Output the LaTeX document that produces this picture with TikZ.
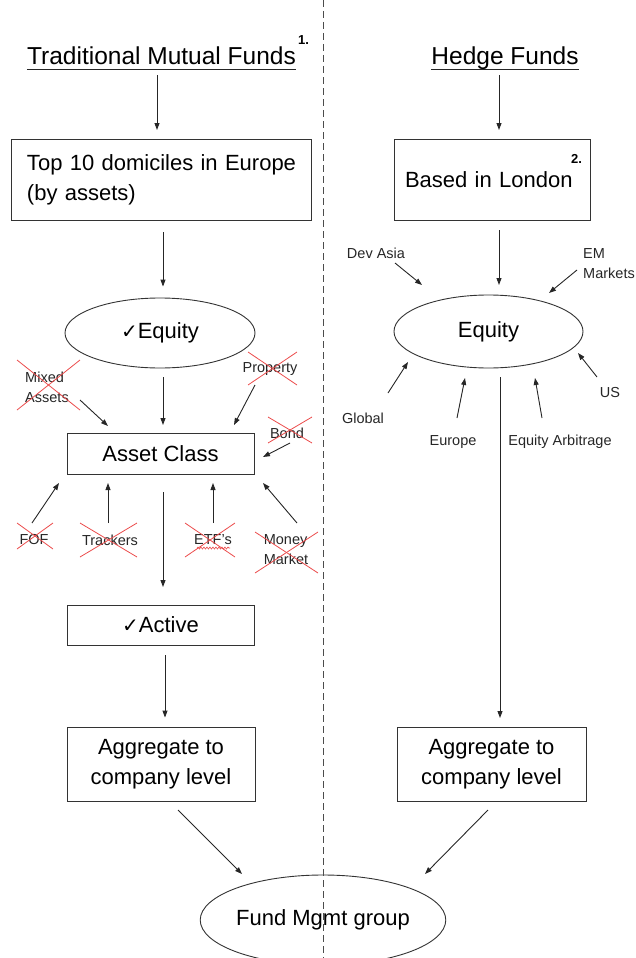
\documentclass[tikz,border=0pt]{standalone}
\usepackage{fontspec}
\setmainfont{Liberation Sans}
\newfontfamily\dvfont{DejaVu Sans}
\usetikzlibrary{shapes.geometric,arrows.meta,decorations.pathmorphing,calc}
\newcommand\redcross[5]{%
  \draw[xred] ($(#1)+(#2-#4,#3-#5)$) -- ($(#1)+(#2+#4,#3+#5)$);
  \draw[xred] ($(#1)+(#2+#4,#3-#5)$) -- ($(#1)+(#2-#4,#3+#5)$);}
\newcommand\chk{{\dvfont\fontsize{20}{20}\selectfont ✓}}
\begin{document}
\begin{tikzpicture}[x=1pt,y=-1pt,
  arr/.style={draw=black!85, line width=0.9pt, -{Triangle[length=7pt,width=5pt]}},
  boxn/.style={draw=black!80, line width=0.9pt, rectangle, inner sep=0pt, font=\fontsize{22}{30}\selectfont, align=center},
  elln/.style={draw=black!80, line width=0.9pt, ellipse, inner sep=0pt, font=\fontsize{22}{26}\selectfont},
  titlen/.style={font=\fontsize{24.5}{28}\selectfont, inner sep=0pt, anchor=base},
  supn/.style={font=\bfseries\fontsize{13}{15}\selectfont, inner sep=0pt, anchor=base west},
  lbl/.style={font=\fontsize{14.5}{20}\selectfont, inner sep=0pt, align=left, text=black!85},
  xred/.style={draw={rgb,255:red,235;green,75;blue,75}, line width=0.8pt},
  uline/.style={draw=black!85, line width=0.9pt},
  divider/.style={draw=black!70, line width=0.8pt, dash pattern=on 7pt off 4pt},
]
\useasboundingbox (0,0) rectangle (635,958);

% ---------- left column ----------
\node[titlen] (t1) at (161.5,65) {Traditional Mutual Funds};
\draw[uline] ([yshift=-4pt]t1.base west) -- ([yshift=-4pt]t1.base east);
\node[supn] (s1) at (298,45) {1.};
\node[boxn, minimum width=300pt, minimum height=81pt, align=left, text width=268pt] (b1) at (161,179.5) {\mbox{Top 10 domiciles in Europe}\\(by assets)};
\node[elln, minimum width=190pt, minimum height=70pt] (e1) at (160,333) {\chk Equity};
\node[boxn, minimum width=187pt, minimum height=41pt] (ac) at (160.5,453.5) {Asset Class};
\node[boxn, minimum width=187pt, minimum height=40pt] (act) at (160.5,625) {\chk Active};
\node[boxn, minimum width=188pt, minimum height=74pt] (ag1) at (161,764) {Aggregate to\\company level};

\node[lbl] (mx) at (47,387) {Mixed\\Assets};
\node[lbl] (pr) at (270,369) {Property};
\node[lbl] (bd) at (287,433) {Bond};
\node[lbl] (fof) at (34,540) {FOF};
\node[lbl] (trk) at (110,540) {Trackers};
\node[lbl] (etf) at (213,540) {ETF's};
\node[lbl] (mm) at (286,550) {Money\\Market};

\redcross{mx}{1.5}{-2}{31.5}{25}
\redcross{pr}{2.5}{-0.5}{24.5}{16.5}
\redcross{bd}{3}{-3}{22}{13}
\redcross{fof}{1}{-4}{18}{13}
\redcross{trk}{-1.5}{0}{28.5}{17}
\redcross{etf}{-3}{0}{25}{17}
\redcross{mm}{0.5}{2.5}{31.5}{20.5}
\draw[xred, line width=0.6pt, decorate, decoration={snake, amplitude=1pt, segment length=3pt}] ($(etf)+(-16,8)$) -- ($(etf)+(17,8)$);

\draw[arr] ($(t1.base)+(-4.5,10)$) -- ($(b1)+(-4,-49.5)$);
\draw[arr] ($(b1.south)+(2,12)$) -- ($(e1.north)+(3,-11)$);
\draw[arr] ($(e1)+(3,44)$) -- ($(ac)+(2.5,-28.5)$);
\draw[arr] ($(mx)+(33,13)$) -- ($(ac)+(-52.5,-27.5)$);
\draw[arr] ($(pr)+(-15,16)$) -- ($(ac)+(73.5,-28.5)$);
\draw[arr] ($(bd)+(3,10)$) -- ($(ac)+(102.5,3.5)$);
\draw[arr] ($(fof)+(-2,-17)$) -- ($(ac)+(-101.5,29.5)$);
\draw[arr] ($(trk)+(-2,-17)$) -- ($(ac)+(-52.5,29.5)$);
\draw[arr] ($(etf)+(0,-17)$) -- ($(ac)+(52.5,29.5)$);
\draw[arr] ($(mm)+(11,-27)$) -- ($(ac)+(102.5,29.5)$);
\draw[arr] ($(ac)+(2.5,38.5)$) -- ($(act)+(2.5,-38)$);
\draw[arr] ($(act.south)+(4.5,10)$) -- ($(ag1.north)+(4,-9)$);

% ---------- right column ----------
\node[titlen] (t2) at (505,65) {Hedge Funds};
\draw[uline] ([yshift=-4pt]t2.base west) -- ([yshift=-4pt]t2.base east);
\node[boxn, minimum width=196pt, minimum height=81pt, align=left, text width=174pt] (b2) at (492,179.5) {Based in London};
\node[supn] (s2) at (571,163) {2.};
\node[elln, minimum width=189pt, minimum height=73pt] (e2) at (488.5,331.5) {Equity};
\node[boxn, minimum width=189pt, minimum height=74pt] (ag2) at (491.5,764) {Aggregate to\\company level};

\node[lbl] (dev) at (376,253) {Dev Asia};
\node[lbl] (em) at (609,264) {EM\\Markets};
\node[lbl] (glb) at (363,418) {Global};
\node[lbl] (eur) at (453,442) {Europe};
\node[lbl] (eqa) at (560,442) {Equity Arbitrage};
\node[lbl] (us) at (610,393) {US};

\draw[arr] ($(t2.base)+(-6,10)$) -- ($(b2)+(7,-49.5)$);
\draw[arr] ($(b2)+(7,50.5)$) -- ($(e2)+(10.5,-46.5)$);
\draw[arr] ($(dev)+(19,10)$) -- ($(e2)+(-66.5,-46.5)$);
\draw[arr] ($(em)+(-32,6)$) -- ($(e2)+(60.5,-38.5)$);
\draw[arr] ($(glb)+(25,-25)$) -- ($(e2)+(-80.5,30.5)$);
\draw[arr] ($(eur)+(4,-24)$) -- ($(e2)+(-23.5,46.5)$);
\draw[arr] ($(eqa)+(-18,-24)$) -- ($(e2)+(46.5,46.5)$);
\draw[arr] ($(us)+(-13,-16)$) -- ($(e2)+(89.5,21.5)$);
\draw[arr] ($(e2)+(11.5,45.5)$) -- ($(ag2)+(8.5,-46)$);

% ---------- bottom ----------
\node[elln, minimum width=216pt, minimum height=90pt] (fm) at (323,920) {Fund Mgmt group};
\draw[arr] ($(ag1)+(17,46)$) -- ($(fm)+(-81,-46)$);
\draw[arr] ($(ag2)+(-3.5,46)$) -- ($(fm)+(102,-46)$);

% ---------- divider ----------
\coordinate (dtop) at (323,0);
\coordinate (dbot) at (323,958);
\draw[divider] (dtop) -- (dbot);
\end{tikzpicture}
\end{document}
